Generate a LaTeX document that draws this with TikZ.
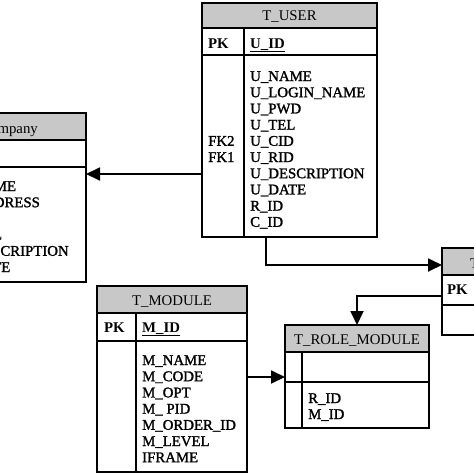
\documentclass[tikz,border=0pt]{standalone}
\usepackage{fontspec}
\setmainfont{Liberation Serif}
\newfontfamily\fldfam[FakeBold=1.5]{Liberation Serif}
\usetikzlibrary{arrows.meta}
\definecolor{hdrgray}{RGB}{200,200,200}
\begin{document}
\begin{tikzpicture}[x=1pt,y=-1pt,
  tbl/.style={draw, line width=1.6pt, inner sep=0pt, outer sep=0pt, anchor=north west},
  sep/.style={line width=1.6pt},
  fld/.style={anchor=base west, inner sep=0pt, font=\fontsize{14.8}{16.2}\fldfam},
  pk/.style={anchor=base west, inner sep=0pt, font=\fontsize{14.8}{16.2}\selectfont\bfseries},
  ttl/.style={anchor=base, inner sep=0pt, font=\fontsize{14.8}{16.2}\selectfont},
  conn/.style={line width=1.8pt, -{Triangle[length=14pt,width=13pt]}}]
\useasboundingbox (0,0) rectangle (474,474);
\fill[white] (0,0) rectangle (474,474);

% ---------- T_USER ----------
\fill[hdrgray] (202,3) rectangle (377,28);
\node[tbl, minimum width=175pt, minimum height=234pt] (user) at (202,3) {};
\draw[sep] (202,28) -- (377,28);
\draw[sep] (202,55) -- (377,55);
\draw[sep] (244,28) -- (244,237);
\node[ttl] (userT) at (289.5,20) {T\_USER};
\node[pk] (userPK) at (208,48) {PK};
\node[pk] (userID) at (250,48) {\underline{U\_ID}};
\foreach \t [count=\i] in {U\_NAME,U\_LOGIN\_NAME,U\_PWD,U\_TEL,U\_CID,U\_RID,U\_DESCRIPTION,U\_DATE,R\_ID,C\_ID}
  \node[fld] (uf\i) at (250,{81+16.2*(\i-1)}) {\t};
\node[fld] (ufk2) at (208,145.8) {FK2};
\node[fld] (ufk1) at (208,162) {FK1};

% ---------- Company ----------
\fill[hdrgray] (-80,113) rectangle (86,140);
\node[tbl, minimum width=166pt, minimum height=169pt] (comp) at (-80,113) {};
\draw[sep] (-80,140) -- (86,140);
\draw[sep] (-80,167) -- (86,167);
\node[ttl, anchor=base east] (compT) at (38,133) {T\_Company};
\foreach \t [count=\i] in {C\_NAME,C\_ADDRESS,C\_TEL,C\_URL,C\_DESCRIPTION,C\_DATE}
  \node[fld] (cf\i) at (-45,{191+16.2*(\i-1)}) {\t};

% ---------- T_MODULE ----------
\fill[hdrgray] (97,286) rectangle (247,313);
\node[tbl, minimum width=150pt, minimum height=186pt] (mod) at (97,286) {};
\draw[sep] (97,313) -- (247,313);
\draw[sep] (97,341) -- (247,341);
\draw[sep] (136,313) -- (136,472);
\node[ttl] (modT) at (172,305) {T\_MODULE};
\node[pk] (modPK) at (104,332) {PK};
\node[pk] (modID) at (142,332) {\underline{M\_ID}};
\foreach \t [count=\i] in {M\_NAME,M\_CODE,M\_OPT,M\_ PID,M\_ORDER\_ID,M\_LEVEL,IFRAME}
  \node[fld] (mf\i) at (142,{365+16.2*(\i-1)}) {\t};

% ---------- T_ROLE_MODULE ----------
\fill[hdrgray] (285,325) rectangle (429,352);
\node[tbl, minimum width=144pt, minimum height=103pt] (rm) at (285,325) {};
\draw[sep] (285,352) -- (429,352);
\draw[sep] (285,382) -- (429,382);
\draw[sep] (302,352) -- (302,428);
\node[ttl] (rmT) at (357,344) {T\_ROLE\_MODULE};
\node[fld] (rmf1) at (308,403) {R\_ID};
\node[fld] (rmf2) at (308,419) {M\_ID};

% ---------- T_ROLE ----------
\fill[hdrgray] (442,248) rectangle (540,275);
\node[tbl, minimum width=98pt, minimum height=87pt] (role) at (442,248) {};
\draw[sep] (442,275) -- (540,275);
\draw[sep] (442,305) -- (540,305);
\node[ttl, anchor=base west] (roleT) at (470,268) {T\_ROLE};
\node[pk] (rolePK) at (447,294) {PK};

% ---------- connectors ----------
\draw[conn] (user.west |- 0,174) -- (comp.east |- 0,174);
\draw[conn] (user.south -| 266,0) |- (role.west |- 0,265);
\draw[conn] (role.west |- 0,296) -| (rm.north -| 357,0);
\draw[conn] (mod.east |- 0,377) -- (rm.west |- 0,377);
\end{tikzpicture}
\end{document}
